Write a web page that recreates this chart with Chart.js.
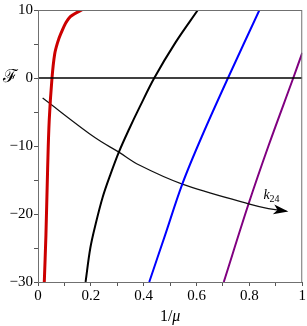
<!DOCTYPE html>
<html>
<head>
<meta charset="utf-8">
<script src="https://cdn.jsdelivr.net/npm/chart.js@4.4.1/dist/chart.umd.min.js"></script>
<style>
  html, body { margin: 0; padding: 0; background: #fff; }
  #wrap { width: 307px; height: 326px; }
</style>
</head>
<body>
<div id="wrap"><canvas id="chart"></canvas></div>
<script>
// values (x = 1/mu, y = F)
const redX = [0.0238, 0.030, 0.0364, 0.0425, 0.053, 0.063, 0.074, 0.086, 0.117, 0.165, 0.19];
const redF = [-30, -23.1, -13.4, -6.2, 0, 3.5, 5.2, 6.5, 8.8, 10.0, 10.5];
const blackX = [0.180, 0.198, 0.218, 0.245, 0.274, 0.306, 0.345, 0.385, 0.44, 0.52, 0.605];
const blackF = [-30, -25, -21.5, -17.5, -14.2, -10.9, -7.5, -4.25, 0, 5.2, 10];
const blueX = [0.421, 0.481, 0.546, 0.620, 0.719, 0.838];
const blueF = [-30, -23.1, -15.6, -8.6, 0, 10];
const purpleX = [0.703, 0.797, 0.872, 0.966, 1.0];
const purpleF = [-30, -18.5, -10, 0, 3.7];
const arrowX = [0.0176, 0.218, 0.306, 0.383, 0.546, 0.797, 0.872, 0.94];
const arrowF = [-2.95, -8.84, -10.9, -12.8, -15.6, -18.5, -19.2, -19.6];
const zeroX = [0, 1];
const zeroF = [0, 0];

const xLabelTicks = [0, 0.2, 0.4, 0.6, 0.8, 1];
const yLabelTicks = [-30, -20, -10, 0, 10];

const serif = '"Liberation Serif", "DejaVu Serif", serif';

function pts(xs, ys) {
  return xs.map((x, i) => ({ x: x, y: ys[i] }));
}

function line(xs, ys, color, width) {
  return {
    data: pts(xs, ys),
    borderColor: color,
    borderWidth: width,
    pointRadius: 0,
    showLine: true,
    fill: false,
    tension: 0.35,
  };
}

const extras = {
  id: 'extras',
  afterDatasetsDraw(chart) {
    const { ctx, chartArea: a, scales } = chart;
    ctx.save();
    // frame
    ctx.strokeStyle = '#707070';
    ctx.lineWidth = 1;
    ctx.strokeRect(a.left + 0.5, a.top + 0.5, a.right - a.left - 1, a.bottom - a.top);

    // arrow head at end of arrow dataset
    const meta = chart.getDatasetMeta(4).data;
    const p1 = meta[meta.length - 1], p0 = meta[meta.length - 2];
    const ang = Math.atan2(p1.y - p0.y, p1.x - p0.x);
    ctx.translate(p1.x, p1.y);
    ctx.rotate(ang);
    ctx.fillStyle = '#000';
    ctx.beginPath();
    ctx.moveTo(2, 0);
    ctx.lineTo(-13, -5);
    ctx.lineTo(-9, 0);
    ctx.lineTo(-13, 5);
    ctx.closePath();
    ctx.fill();
    ctx.restore();

    ctx.save();
    ctx.fillStyle = '#000';
    // F label
    ctx.font = '18px "DejaVu Serif", serif';
    ctx.textAlign = 'center';
    ctx.textBaseline = 'middle';
    ctx.fillText('\u2131', 10, scales.y.getPixelForValue(0) - 1);
    // k24 label
    const kx = scales.x.getPixelForValue(0.853);
    const ky = scales.y.getPixelForValue(-17.8);
    ctx.textAlign = 'left';
    ctx.textBaseline = 'alphabetic';
    ctx.font = 'italic 14px ' + serif;
    ctx.fillText('k', kx, ky);
    const kw = ctx.measureText('k').width;
    ctx.font = '10px ' + serif;
    ctx.fillText('24', kx + kw, ky + 3);
    // x axis title 1/mu with italic mu
    ctx.font = '16px ' + serif;
    const t1 = '1/';
    const w1 = ctx.measureText(t1).width;
    ctx.font = 'italic 16px ' + serif;
    const w2 = ctx.measureText('\u03bc').width;
    const cx = (a.left + a.right) / 2 - (w1 + w2) / 2;
    ctx.textBaseline = 'middle';
    ctx.font = '16px ' + serif;
    ctx.fillText(t1, cx, 317);
    ctx.font = 'italic 16px ' + serif;
    ctx.fillText('\u03bc', cx + w1, 317);
    ctx.restore();
  }
};

new Chart(document.getElementById('chart'), {
  type: 'scatter',
  data: {
    datasets: [
      line(zeroX, zeroF, '#000', 1.5),
      line(redX, redF, '#cc0000', 3),
      line(blackX, blackF, '#000', 2),
      line(blueX, blueF, '#0000ff', 2),
      line(arrowX, arrowF, '#111', 1.2),
      line(purpleX, purpleF, '#800080', 2),
    ],
  },
  options: {
    responsive: true,
    maintainAspectRatio: false,
    animation: false,
    layout: { padding: { top: 5, right: 3, left: 0, bottom: 0 } },
    plugins: { legend: { display: false }, tooltip: { enabled: false } },
    scales: {
      x: {
        type: 'linear',
        min: 0,
        max: 1,
        afterFit: (s) => { s.height = 44; },
        ticks: {
          stepSize: 0.1,
          autoSkip: false,
          maxRotation: 0,
          padding: 1,
          color: '#000',
          font: { family: serif, size: 15 },
          callback: (v) => {
            const hit = xLabelTicks.find(t => Math.abs(t - v) < 1e-6);
            return hit === undefined ? '' : String(hit);
          },
        },
        grid: { drawOnChartArea: false, tickLength: 4, color: '#555' },
        border: { color: '#555' },
      },
      y: {
        min: -30,
        max: 10,
        afterFit: (s) => { s.width = 38; },
        ticks: {
          stepSize: 5,
          autoSkip: false,
          padding: 1,
          color: '#000',
          font: { family: serif, size: 15 },
          callback: (v) => {
            if (!yLabelTicks.includes(v)) return '';
            return v < 0 ? '\u2212' + Math.abs(v) : String(v);
          },
        },
        grid: { drawOnChartArea: false, tickLength: 4, color: '#555' },
        border: { color: '#555' },
      },
    },
  },
  plugins: [extras],
});
</script>
</body>
</html>
